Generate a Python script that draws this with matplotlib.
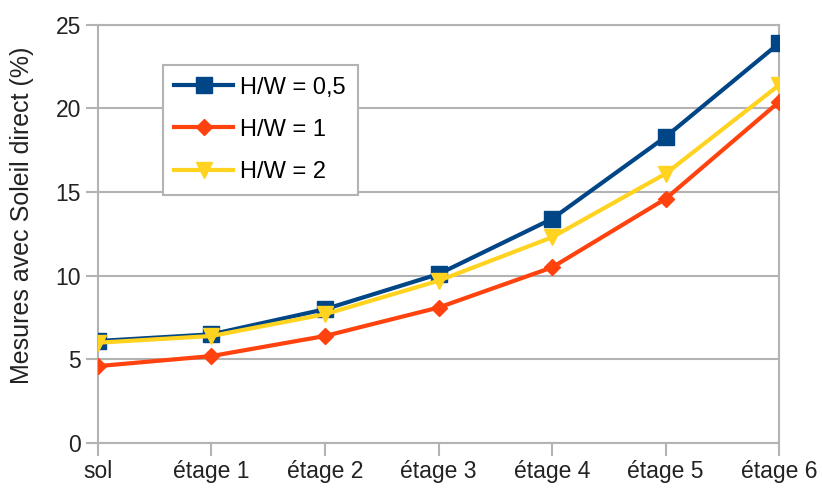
import matplotlib
matplotlib.use("Agg")
import matplotlib.pyplot as plt

# categories and series
levels = ["sol", "étage 1", "étage 2", "étage 3", "étage 4", "étage 5", "étage 6"]
hw_05 = [6.1, 6.5, 8.0, 10.1, 13.4, 18.3, 23.9]
hw_1 = [4.6, 5.2, 6.4, 8.1, 10.5, 14.6, 20.4]
hw_2 = [6.0, 6.4, 7.7, 9.7, 12.3, 16.1, 21.4]

plt.rcParams["font.family"] = ["Liberation Sans", "DejaVu Sans"]

fig = plt.figure(figsize=(8.22, 4.94), dpi=100)
ax = fig.add_axes([0.119, 0.103, 0.829, 0.847])

x = range(len(levels))
ax.plot(x, hw_05, color="#004586", lw=3, marker="s", ms=11, label="H/W = 0,5", zorder=3)
ax.plot(x, hw_1, color="#ff420e", lw=3, marker="D", ms=8, label="H/W = 1", zorder=3)
ax.plot(x, hw_2, color="#ffd320", lw=3, marker="v", ms=11, label="H/W = 2", zorder=4)

ax.set_xlim(0, len(levels) - 1)
ax.set_ylim(0, 25)
ax.set_yticks(range(0, 26, 5))
ax.set_xticks(list(x))
ax.set_xticklabels(levels)
ax.tick_params(labelsize=16.5, colors="#b3b3b3", labelcolor="#222222", length=9, width=1.5)
ax.tick_params(axis="x", pad=3)
ax.tick_params(axis="y", pad=3)
ax.set_ylabel("Mesures avec Soleil direct (%)", fontsize=18, color="#222222")
ax.yaxis.set_label_coords(-0.093, 0.545)
ax.yaxis.grid(True, color="#b3b3b3", lw=1.5)
ax.set_axisbelow(True)
for s in ax.spines.values():
    s.set_color("#b3b3b3")
    s.set_linewidth(1.5)

leg = ax.legend(loc="upper left", bbox_to_anchor=(0.095, 0.904), fontsize=17,
                fancybox=False, framealpha=1, edgecolor="#b3b3b3",
                handlelength=2.5, handletextpad=0.3, borderpad=0.5,
                labelspacing=0.85, borderaxespad=0)
leg.get_frame().set_linewidth(1.5)

fig.savefig("out.png", dpi=100)
